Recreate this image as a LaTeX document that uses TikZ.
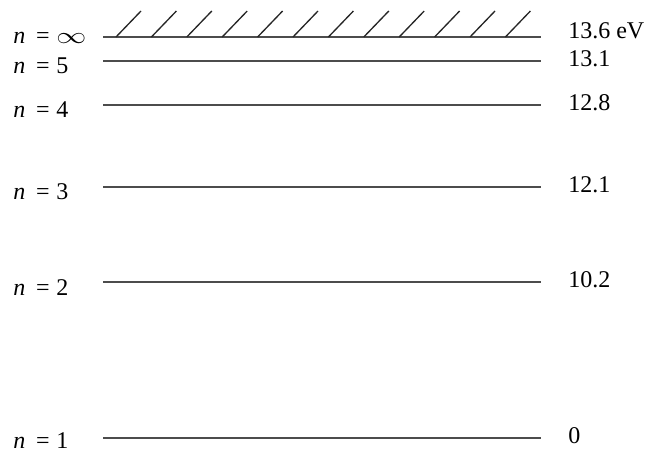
\documentclass[tikz,border=0pt]{standalone}
\usepackage{fontspec}
\setmainfont{Liberation Serif}
\usetikzlibrary{positioning}

\tikzset{
  level/.style={line width=1.5pt, draw=black!70},
  hatch/.style={line width=1pt, draw=black!85},
  nlabel/.style={anchor=base west, inner sep=0pt, font=\fontsize{18}{21}\selectfont},
  elabel/.style={anchor=base west, inner sep=0pt, font=\fontsize{18}{21}\selectfont}
}

\newcommand{\nlev}[1]{\textit{n}\hspace{0.45em}=\hspace{0.28em}#1}
\newcommand{\infsym}{\scalebox{1.3}[1]{$\infty$}}

\begin{document}
\begin{tikzpicture}[x=0.75pt, y=-0.75pt]
  \useasboundingbox (0,0) rectangle (648,453);

  % energy levels: name / line height / label baselines / energy
  \foreach \name/\ypos/\ny/\ey/\en/\lab in {inf/37/44/39/13.6 eV/\infsym, five/61/74/66/13.1/5,
      four/105/117/110/12.8/4, three/187/199/192/12.1/3, two/282/295/287/10.2/2,
      one/438/448/443/0/1} {
    \coordinate (\name L) at (103,\ypos);
    \coordinate (\name R) at (541,\ypos);
    \draw[level] (\name L) -- (\name R);
    \node[nlabel] (\name N) at (13,\ny) {\nlev{\lab}};
    \node[elabel] (\name E) at (568,\ey) {\en};
  }

  % continuum hatching above n = infinity
  \foreach \i in {0,...,11} {
    \coordinate (hb\i) at (116+35.4*\i,37);
    \draw[hatch] (hb\i) -- ++(25,-26);
  }
\end{tikzpicture}
\end{document}
